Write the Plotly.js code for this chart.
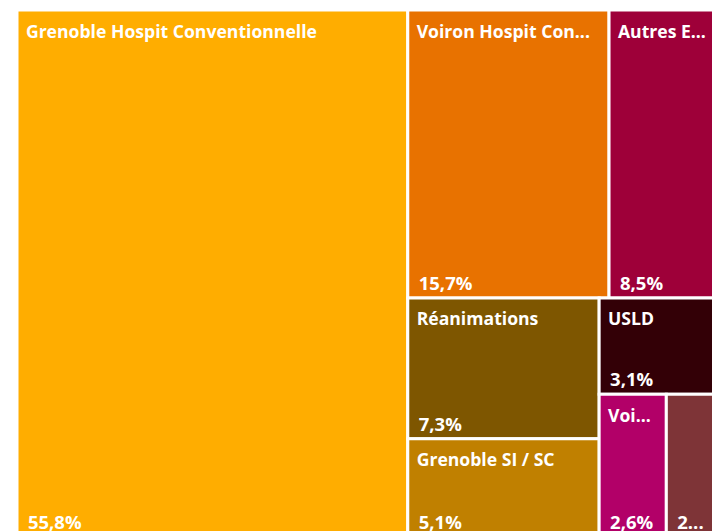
<!DOCTYPE html>
<html><head><meta charset="utf-8">
<script src="https://cdn.plot.ly/plotly-3.0.1.min.js"></script>
<style>
html,body{margin:0;padding:0;overflow:hidden;background:#fff;width:712px;height:531px}
#chart{width:740px;height:570px}
</style>
</head><body><div id="chart"></div>
<script>
// Data read from the (cropped) reference treemap
const categories = ["Grenoble Hospit Conventionnelle","Voiron Hospit Conventionnelle","Autres Etablissements","Réanimations","Grenoble SI / SC","USLD","Voiron SI / SC","Autres"];
const shownLabels = ["Grenoble Hospit Conventionnelle","Voiron Hospit Con...","Autres E...","Réanimations","Grenoble SI / SC","USLD","Voi...",""];
const shares = [55.8, 15.7, 8.5, 7.3, 5.1, 3.1, 2.6, 2.0];
const percentLabels = ["55,8%","15,7%","8,5%","7,3%","5,1%","3,1%","2,6%","2..."];
const colors = ["#FFAD00","#E87200","#9E0039","#7E5600","#C08000","#330006","#B20068","#7E3437"];

const parents = categories.map(() => "");
const FAM = "Open Sans";
const LABEL_PX = 17.6, PCT_PX = 18.5;

// label: blank first line (small line spacing) gives top padding, nbsp gives left padding
const labelText = shownLabels.map(s =>
  "<span style='font-size:" + LABEL_PX + "px'>&nbsp;</span><br>" +
  "<span style='font-size:" + LABEL_PX + "px'>&nbsp;</span><span style='font-size:5px'>&nbsp;</span>" +
  "<span style='font-size:" + LABEL_PX + "px'>" + s + "</span>");
const pctText = percentLabels.map(s =>
  "&nbsp;<span style='font-size:12px'>&nbsp;</span>" + s);

const common = {
  type: "treemap",
  ids: categories,
  labels: categories,
  parents: parents,
  values: shares,
  sort: true,
  tiling: {packing: "squarify", squarifyratio: 1.618, pad: 0},
  pathbar: {visible: false},
  hoverinfo: "skip",
  domain: {x: [0, 1], y: [0, 1]}
};
const tiles = Object.assign({}, common, {
  marker: {colors: colors, line: {width: 3, color: "#ffffff"}, pad: {t: 0, l: 0, r: 0, b: 0}},
  customdata: labelText,
  texttemplate: "%{customdata}",
  textposition: "top left",
  textfont: {family: FAM, size: 4.3, color: "#ffffff", weight: 700}
});
const pct = Object.assign({}, common, {
  marker: {colors: colors.map(() => "rgba(0,0,0,0)"), line: {width: 0, color: "rgba(0,0,0,0)"}, pad: {t: 0, l: 0, r: 0, b: 0}},
  customdata: pctText,
  texttemplate: "%{customdata}",
  textposition: "bottom left",
  textfont: {family: FAM, size: PCT_PX, color: "#ffffff", weight: 700}
});

Plotly.newPlot("chart", [tiles, pct], {
  width: 740, height: 570,
  margin: {l: 16.5, r: 21.5, t: 9.5, b: 32.5, pad: 0},
  paper_bgcolor: "#ffffff",
  separators: ", ",
  showlegend: false
}, {displayModeBar: false, staticPlot: true});
</script>
</body></html>
